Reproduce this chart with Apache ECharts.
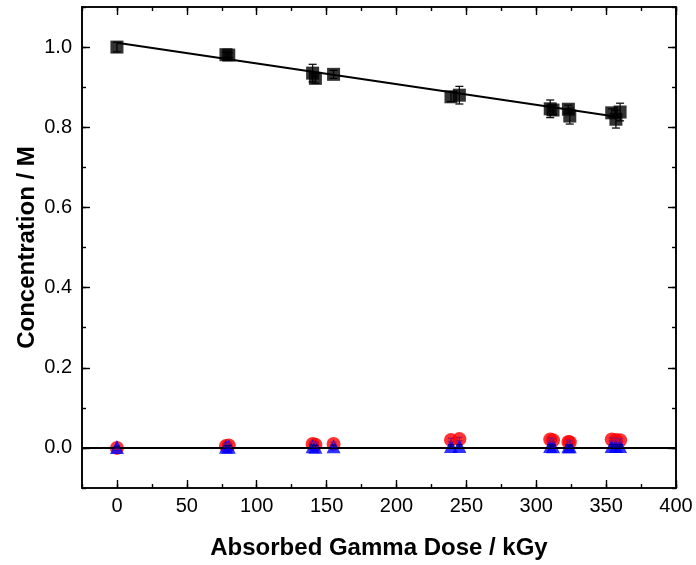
<!DOCTYPE html>
<html>
<head>
<meta charset="utf-8">
<script src="https://cdn.jsdelivr.net/npm/echarts@6/dist/echarts.min.js"></script>
<style>html,body{margin:0;padding:0;background:#fff}#c{width:696px;height:565px}</style>
</head>
<body>
<div id="c"></div>
<script>
// Absorbed dose (kGy)
const dose = [0, 78, 80, 140, 142, 155, 239, 245, 310, 312, 323, 324, 354, 357, 360];
// Parent compound concentration (M) and errors
const concMain = [1.000, 0.981, 0.980, 0.935, 0.922, 0.932, 0.876, 0.880, 0.846, 0.843, 0.845, 0.828, 0.836, 0.820, 0.838];
const errMain  = [0.012, 0.006, 0.006, 0.022, 0.012, 0.010, 0.012, 0.022, 0.022, 0.012, 0.010, 0.020, 0.010, 0.022, 0.022];
// Product 1 (red circles)
const concP1 = [0.000, 0.005, 0.006, 0.010, 0.008, 0.010, 0.020, 0.022, 0.021, 0.019, 0.015, 0.014, 0.021, 0.020, 0.019];
const errP1  = [0.003, 0.004, 0.004, 0.004, 0.004, 0.004, 0.004, 0.004, 0.004, 0.004, 0.004, 0.004, 0.004, 0.004, 0.004];
// Product 2 (blue triangles)
const concP2 = [0.002, 0.003, 0.003, 0.004, 0.003, 0.004, 0.005, 0.005, 0.005, 0.004, 0.004, 0.004, 0.005, 0.005, 0.005];
const errP2  = [0.002, 0.003, 0.003, 0.003, 0.003, 0.003, 0.003, 0.003, 0.003, 0.003, 0.003, 0.003, 0.003, 0.003, 0.003];
// Linear fit endpoints
const fitDose = [0, 360];
const fitConc = [1.011, 0.825];
// Axis ticks
const xTicks = [0, 50, 100, 150, 200, 250, 300, 350, 400];
const yTicks = [0, 0.2, 0.4, 0.6, 0.8, 1.0];

const FONT = '"Liberation Sans", Arial, sans-serif';
const X_MIN = -25, X_MAX = 400, Y_MIN = -0.1, Y_MAX = 1.1;

function pts(xs, ys) { return xs.map((x, i) => [x, ys[i]]); }
function errData(xs, ys, es) { return xs.map((x, i) => [x, ys[i] - es[i], ys[i] + es[i]]); }

function errSeries(data, color, cap, z) {
  return {
    type: 'custom', xAxisIndex: 0, yAxisIndex: 0, z: z, silent: true,
    data: data,
    renderItem: function (params, api) {
      const x = api.value(0);
      const lo = api.coord([x, api.value(1)]);
      const hi = api.coord([x, api.value(2)]);
      const st = { stroke: color, lineWidth: 1.3 };
      return {
        type: 'group',
        children: [
          { type: 'line', shape: { x1: lo[0], y1: lo[1], x2: hi[0], y2: hi[1] }, style: st },
          { type: 'line', shape: { x1: lo[0] - cap, y1: lo[1], x2: lo[0] + cap, y2: lo[1] }, style: st },
          { type: 'line', shape: { x1: hi[0] - cap, y1: hi[1], x2: hi[0] + cap, y2: hi[1] }, style: st }
        ]
      };
    }
  };
}

const axLine = { show: true, onZero: false, lineStyle: { color: '#000', width: 1.6 } };
function xAx(pos, major, labels) {
  const a = {
    type: 'value', position: pos, min: X_MIN, max: X_MAX,
    axisLine: axLine, splitLine: { show: false },
    axisTick: { show: true, inside: true, length: major ? 8 : 4, lineStyle: { color: '#000', width: 1.4 } },
    axisLabel: { show: labels, color: '#000', fontFamily: FONT, fontSize: 20, margin: 8 }
  };
  if (major) { a.axisTick.customValues = xTicks; a.axisLabel.customValues = xTicks; }
  else { a.interval = 25; a.axisLabel.show = false; }
  return a;
}
function yAx(pos, major, labels) {
  const a = {
    type: 'value', position: pos, min: Y_MIN, max: Y_MAX,
    axisLine: axLine, splitLine: { show: false },
    axisTick: { show: true, inside: true, length: major ? 8 : 4, lineStyle: { color: '#000', width: 1.4 } },
    axisLabel: { show: labels, color: '#000', fontFamily: FONT, fontSize: 20, margin: 10,
      formatter: v => v.toFixed(1) }
  };
  if (major) { a.axisTick.customValues = yTicks; a.axisLabel.customValues = yTicks; }
  else { a.interval = 0.1; a.axisLabel.show = false; }
  return a;
}

const xAxes = [xAx('bottom', true, true), xAx('bottom', false, false), xAx('top', true, false), xAx('top', false, false)];
xAxes[0].name = 'Absorbed Gamma Dose / kGy';
xAxes[0].nameLocation = 'middle';
xAxes[0].nameGap = 48;
xAxes[0].nameMoveOverlap = false;
xAxes[0].nameTextStyle = { color: '#000', fontFamily: FONT, fontSize: 24, fontWeight: 'bold' };
const yAxes = [yAx('left', true, true), yAx('left', false, false), yAx('right', true, false), yAx('right', false, false)];
yAxes[0].name = 'Concentration / M';
yAxes[0].nameLocation = 'middle';
yAxes[0].nameGap = 43;
yAxes[0].nameMoveOverlap = false;
yAxes[0].nameTextStyle = { color: '#000', fontFamily: FONT, fontSize: 24, fontWeight: 'bold' };

const chart = echarts.init(document.getElementById('c'), null, { renderer: 'canvas' });
chart.setOption({
  animation: false,
  backgroundColor: '#fff',
  grid: { left: 82, right: 20, top: 7, bottom: 73, containLabel: false },
  xAxis: xAxes,
  yAxis: yAxes,
  series: [
    {
      type: 'line', data: pts(fitDose, fitConc), showSymbol: false, symbol: 'none',
      lineStyle: { color: '#000', width: 2 }, z: 3,
      markLine: {
        silent: true, symbol: 'none', label: { show: false },
        lineStyle: { color: '#000', width: 2.2, type: 'solid' },
        data: [{ yAxis: 0 }]
      }
    },
    errSeries(errData(dose, concMain, errMain), '#111', 4, 3),
    {
      type: 'scatter', data: pts(dose, concMain), symbol: 'rect', symbolSize: 13,
      itemStyle: { color: '#000' }, z: 4
    },
    {
      type: 'scatter', data: pts(dose, concP1), symbol: 'circle', symbolSize: 14,
      itemStyle: { color: '#ff0000' }, z: 4
    },
    {
      type: 'scatter', data: pts(dose, concP2), symbol: 'triangle', symbolSize: 14,
      itemStyle: { color: '#0000ff' }, z: 4
    },
    errSeries(errData(dose, concP1, errP1), '#a01060', 3, 5),
    errSeries(errData(dose, concP2, errP2), '#000080', 3, 5)
  ]
});
</script>
</body>
</html>
